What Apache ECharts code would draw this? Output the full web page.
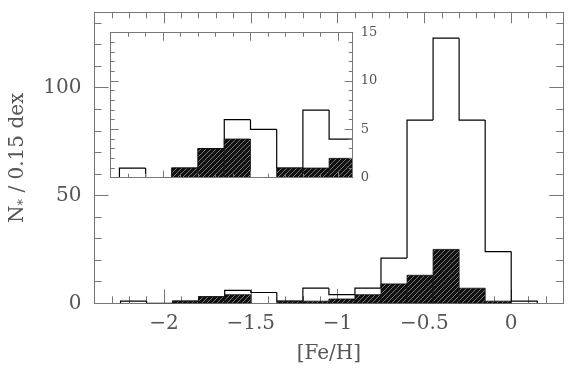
<!DOCTYPE html>
<html>
<head>
<meta charset="utf-8">
<script src="https://cdn.jsdelivr.net/npm/echarts@6/dist/echarts.min.js"></script>
<style>
html, body { margin: 0; padding: 0; background: #fff; }
#main { width: 570px; height: 376px; }
</style>
</head>
<body>
<div id="main"></div>
<script>
// left edges of the 0.15 dex bins
var binEdges = [-2.25, -2.10, -1.95, -1.80, -1.65, -1.50, -1.35, -1.20, -1.05, -0.90, -0.75, -0.60, -0.45, -0.30, -0.15, 0.00];
var binWidth = 0.15;
var allStars = [1, 0, 1, 3, 6, 5, 1, 7, 4, 7, 21, 85, 123, 85, 24, 1];
var hatched = [0, 0, 1, 3, 4, 0, 1, 1, 2, 4, 9, 13, 25, 7, 1, 0];

var xMajor = [-2, -1.5, -1, -0.5, 0];
var xMinor = [-2.3, -2.2, -2.1, -1.9, -1.8, -1.7, -1.6, -1.4, -1.3, -1.2, -1.1, -0.9, -0.8, -0.7, -0.6, -0.4, -0.3, -0.2, -0.1, 0.1, 0.2];
var yMajor = [0, 50, 100];
var yMinor = [10, 20, 30, 40, 60, 70, 80, 90, 110, 120, 130];

var insetXMajor = [-2, -1.5, -1];
var insetXMinor = [-2.2, -2.1, -1.9, -1.8, -1.7, -1.6, -1.4, -1.3, -1.2, -1.1];
var insetYMajor = [0, 5, 10, 15];
var insetYMinor = [1, 2, 3, 4, 6, 7, 8, 9, 11, 12, 13, 14];

var chartDom = document.getElementById('main');
var myChart = echarts.init(chartDom, null, { renderer: 'canvas' });

// hatch pattern: gray slashes on black
var hc = document.createElement('canvas');
hc.width = 5; hc.height = 5;
var ctx = hc.getContext('2d');
ctx.fillStyle = '#111';
ctx.fillRect(0, 0, 5, 5);
ctx.strokeStyle = '#777';
ctx.lineWidth = 1;
ctx.beginPath();
ctx.moveTo(-1, 6); ctx.lineTo(6, -1);
ctx.stroke();
var hatch = { image: hc, repeat: 'repeat' };

var axisColor = '#777';
var textColor = '#555';
var fontFam = 'DejaVu Serif';

function minus(v) {
    return String(v).replace('-', '\u2212');
}

var outlineData = allStars.map(function (v, i) {
    return [binEdges[i], v, i > 0 ? allStars[i - 1] : 0, i === allStars.length - 1 ? 1 : 0];
});
var hatchData = hatched.map(function (v, i) {
    return [binEdges[i], v];
});

function renderOutline(params, api) {
    var x0 = api.value(0), y = api.value(1), prev = api.value(2);
    var pts = [api.coord([x0, prev]), api.coord([x0, y]), api.coord([x0 + binWidth, y])];
    if (api.value(3)) pts.push(api.coord([x0 + binWidth, 0]));
    return {
        type: 'polyline',
        shape: { points: pts },
        style: { stroke: '#000', lineWidth: 1.2, fill: null }
    };
}

function renderHatch(params, api) {
    var x0 = api.value(0), y = api.value(1);
    if (!y) return;
    var p0 = api.coord([x0, 0]);
    var p1 = api.coord([x0 + binWidth, y]);
    return {
        type: 'rect',
        shape: { x: p0[0], y: p1[1], width: p1[0] - p0[0], height: p0[1] - p1[1] },
        style: { fill: hatch, stroke: '#111', lineWidth: 0.8 }
    };
}

function xAx(grid, pos, min, max, ticks, len, labels, z) {
    return {
        type: 'value', gridIndex: grid, position: pos, min: min, max: max, z: z,
        axisLine: { show: true, onZero: false, lineStyle: { color: axisColor, width: 1 } },
        axisTick: { show: true, inside: true, length: len, customValues: ticks, lineStyle: { color: axisColor } },
        axisLabel: labels ? {
            show: true, customValues: labels, margin: 10, color: textColor,
            fontFamily: fontFam, fontSize: 20, formatter: minus
        } : { show: false },
        splitLine: { show: false }
    };
}

function yAx(grid, pos, min, max, ticks, len, labels, z, fs, margin) {
    return {
        type: 'value', gridIndex: grid, position: pos, min: min, max: max, z: z,
        axisLine: { show: true, onZero: false, lineStyle: { color: axisColor, width: 1 } },
        axisTick: { show: true, inside: true, length: len, customValues: ticks, lineStyle: { color: axisColor } },
        axisLabel: labels ? {
            show: true, customValues: labels, margin: margin, color: textColor,
            fontFamily: fontFam, fontSize: fs
        } : { show: false },
        splitLine: { show: false }
    };
}

var xMain = xAx(0, 'bottom', -2.4, 0.3, xMajor, 14, xMajor, 1);
xMain.name = '[Fe/H]';
xMain.nameLocation = 'middle';
xMain.nameGap = 40;
xMain.nameTextStyle = { color: textColor, fontFamily: fontFam, fontSize: 20 };

var yMain = yAx(0, 'left', 0, 135, yMajor, 14, yMajor, 1, 20, 13);
yMain.name = 'N{sub|*} / 0.15 dex';
yMain.nameLocation = 'middle';
yMain.nameGap = 64;
yMain.nameTextStyle = {
    color: textColor, fontFamily: fontFam, fontSize: 20,
    rich: { sub: { fontFamily: fontFam, fontSize: 13, color: textColor, verticalAlign: 'bottom', padding: [12, 0, 0, 0] } }
};

var option = {
    animation: false,
    backgroundColor: '#fff',
    grid: [
        { left: 92.7, right: 6.7, top: 12.3, bottom: 72.7, z: 0 },
        { left: 110.7, right: 217.3, top: 32.7, bottom: 198.3, show: true, backgroundColor: '#fff', borderWidth: 0, z: 5 }
    ],
    xAxis: [
        xMain,
        xAx(0, 'bottom', -2.4, 0.3, xMinor, 7, null, 1),
        xAx(0, 'top', -2.4, 0.3, xMajor, 11, null, 1),
        xAx(0, 'top', -2.4, 0.3, xMinor, 6, null, 1),
        xAx(1, 'bottom', -2.3, -0.915, insetXMajor, 7, null, 7),
        xAx(1, 'bottom', -2.3, -0.915, insetXMinor, 4, null, 7),
        xAx(1, 'top', -2.3, -0.915, insetXMajor, 8, null, 7),
        xAx(1, 'top', -2.3, -0.915, insetXMinor, 4, null, 7)
    ],
    yAxis: [
        yMain,
        yAx(0, 'left', 0, 135, yMinor, 7, null, 1),
        yAx(0, 'right', 0, 135, yMajor, 14, null, 1),
        yAx(0, 'right', 0, 135, yMinor, 7, null, 1),
        yAx(1, 'left', 0, 15, insetYMajor, 8, null, 7),
        yAx(1, 'left', 0, 15, insetYMinor, 4, null, 7),
        yAx(1, 'right', 0, 15, insetYMajor, 8, insetYMajor, 7, 13, 8),
        yAx(1, 'right', 0, 15, insetYMinor, 4, null, 7)
    ],
    series: [
        {
            type: 'custom', xAxisIndex: 0, yAxisIndex: 0, z: 2, clip: true,
            renderItem: renderOutline, data: outlineData, encode: { x: 0, y: 1 }
        },
        {
            type: 'custom', xAxisIndex: 0, yAxisIndex: 0, z: 3, clip: true,
            renderItem: renderHatch, data: hatchData, encode: { x: 0, y: 1 }
        },
        {
            type: 'custom', xAxisIndex: 4, yAxisIndex: 4, z: 6, clip: true,
            renderItem: renderOutline, data: outlineData, encode: { x: 0, y: 1 }
        },
        {
            type: 'custom', xAxisIndex: 4, yAxisIndex: 4, z: 7, clip: true,
            renderItem: renderHatch, data: hatchData, encode: { x: 0, y: 1 }
        }
    ]
};
myChart.setOption(option);
</script>
</body>
</html>
